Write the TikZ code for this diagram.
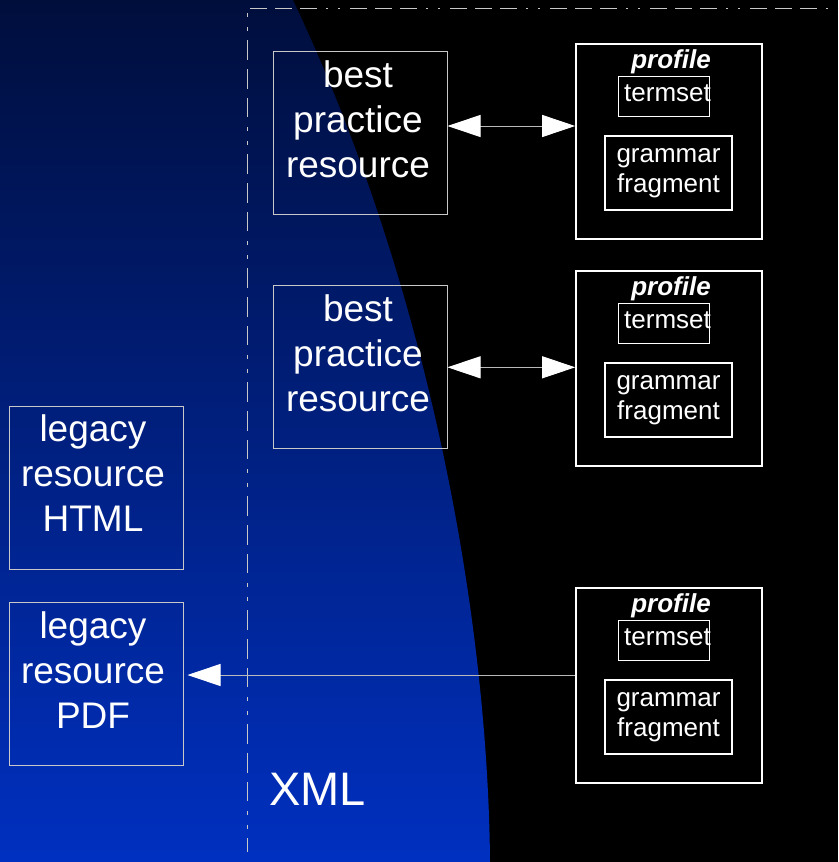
\documentclass[tikz,border=0pt]{standalone}
\usepackage{fontspec}
\setmainfont{Liberation Sans}
\usetikzlibrary{arrows.meta}

\definecolor{navytop}{RGB}{0,14,60}
\definecolor{navybot}{RGB}{0,48,192}
\definecolor{rulegrey}{RGB}{200,200,200}
\definecolor{linkgrey}{RGB}{185,185,185}

\newcommand{\bigtext}{\fontsize{37}{45}\selectfont}
\newcommand{\smalltext}{\fontsize{26}{30}\selectfont}

\tikzset{
  resbox/.style={draw=rulegrey, line width=1pt, minimum width=174pt, minimum height=163pt, inner sep=0pt},
  profbox/.style={draw=white, line width=1.6pt, minimum width=186pt, minimum height=195pt, inner sep=0pt},
  termbox/.style={draw=white, line width=1.6pt, minimum width=91pt, minimum height=40pt, inner sep=0pt},
  grambox/.style={draw=white, line width=1.6pt, minimum width=127pt, minimum height=74pt, inner sep=0pt},
  bigtxt/.style={text=white, font=\bigtext, align=center, inner sep=0pt, anchor=north},
  smalltxt/.style={text=white, font=\smalltext, align=center, inner sep=0pt},
  proftxt/.style={text=white, font=\smalltext\bfseries\itshape, inner sep=0pt, anchor=base},
  linkline/.style={draw=linkgrey, line width=1pt},
  tip/.tip={Triangle[length=33pt, width=22pt, color=white]},
  twoway/.style={linkline, {tip}-{tip}},
  oneway/.style={linkline, -{tip}},
}

% one profile: outer box, caption, termset and grammar fragment
\newcommand{\profileblock}[3]{%
  \node[profbox] (#1) at (#2,#3) {};
  \node[proftxt] (#1cap) at ([xshift=2pt,yshift=-25pt]#1.north) {profile};
  \node[termbox] (#1term) at ([xshift=-5pt,yshift=45.2pt]#1.center) {};
  \node[smalltxt, anchor=base] (#1termtxt) at ([xshift=3.5pt,yshift=-26pt]#1term.north) {termset};
  \node[grambox] (#1gram) at ([xshift=-0.5pt,yshift=-31.5pt]#1.center) {};
  \node[smalltxt, anchor=north] (#1gramtxt) at ([yshift=-6pt]#1gram.north) {\strut grammar\\fragment};
}

\begin{document}
\begin{tikzpicture}[x=1pt, y=-1pt]
  \useasboundingbox (0,0) rectangle (838,862);

  % backdrop: black field with the blue XML region on the left
  \fill[black] (0,0) rectangle (838,862);
  \shade[top color=navytop, bottom color=navybot]
    (0,0) -- (293,0) .. controls (430,290) and (488,620) .. (490,862) -- (0,862) -- cycle;

  % frame rules
  \draw[rulegrey, line width=1pt,
        dash pattern=on 17pt off 8pt on 17pt off 8pt on 17pt off 9pt on 2pt off 10pt on 2pt off 10pt]
    (250,8.3) -- (838,8.3);
  \draw[rulegrey, line width=1pt,
        dash pattern=on 4pt off 10pt on 4pt off 9pt on 20pt off 9pt on 20pt off 9pt on 19pt off 10pt]
    (247.5,13) -- (247.5,852);

  % best practice resources
  \node[resbox] (bp1) at (360,132.5) {};
  \node[bigtxt] (bp1txt) at ([xshift=-2pt,yshift=-4.8pt]bp1.north) {\strut best\\practice\\resource};
  \node[resbox] (bp2) at (360,366.5) {};
  \node[bigtxt] (bp2txt) at ([xshift=-2pt,yshift=-4.8pt]bp2.north) {\strut best\\practice\\resource};

  % legacy resources
  \node[resbox] (html) at (96,487.5) {};
  \node[bigtxt] (htmltxt) at ([xshift=-3pt,yshift=-4.5pt]html.north) {\strut legacy\\resource\\HTML};
  \node[resbox] (pdf) at (96,684) {};
  \node[bigtxt] (pdftxt) at ([xshift=-3pt,yshift=-4.8pt]pdf.north) {\strut legacy\\resource\\PDF};

  % profiles
  \profileblock{p1}{669}{141.5}
  \profileblock{p2}{669}{368.5}
  \profileblock{p3}{669}{685.5}

  % XML label
  \node[text=white, font=\fontsize{47}{56}\selectfont, inner sep=0pt, anchor=base west] (xml) at (269,805) {XML};

  % connectors
  \coordinate (a1) at ([yshift=6.5pt]bp1.east);
  \draw[twoway] (a1) -- (a1 -| p1.west);
  \coordinate (a2) at ([yshift=-0.8pt]bp2.east);
  \draw[twoway] (a2) -- (a2 -| p2.west);
  \coordinate (a3) at ([yshift=10.5pt]p3.west);
  \draw[oneway] (a3) -- ([xshift=4pt]pdf.east |- a3);
\end{tikzpicture}
\end{document}
